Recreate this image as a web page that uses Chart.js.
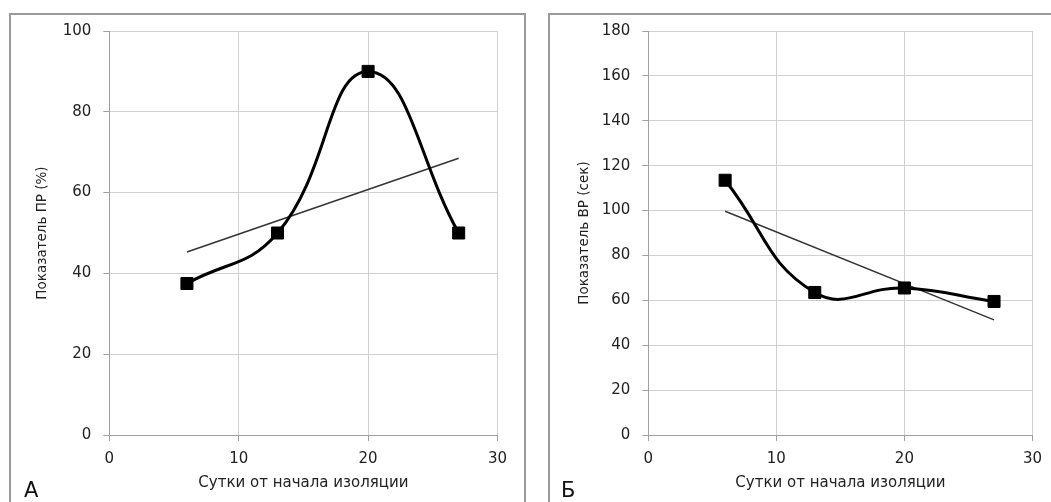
<!DOCTYPE html>
<html>
<head>
<meta charset="utf-8">
<script src="https://cdn.jsdelivr.net/npm/chart.js@4.4.1/dist/chart.umd.min.js"></script>
<style>
  html, body { margin: 0; padding: 0; background: #fff; }
  body { width: 1051px; height: 502px; position: relative; overflow: hidden; font-family: "DejaVu Sans", sans-serif; }
  .panel { position: absolute; top: 13px; height: 520px; border: 2px solid #9a9a9a; box-sizing: border-box; }
  .wrap { position: absolute; top: 0; height: 502px; }
  .letter { position: absolute; font-size: 21px; color: #111; line-height: 1; }
</style>
</head>
<body>
<div class="panel" style="left:9px; width:517px;"></div>
<div class="panel" style="left:548px; width:520px;"></div>
<div class="wrap" style="left:0; width:526px;"><canvas id="chartA"></canvas></div>
<div class="wrap" style="left:526px; width:525px;"><canvas id="chartB"></canvas></div>
<div class="letter" style="left:24px; top:480px;">А</div>
<div class="letter" style="left:561px; top:480px;">Б</div>
<script>
// Панель А — показатель ПР
const daysA = [6, 13, 20, 27];
const valuesA = [37.5, 50, 90, 50];
const trendDaysA = [6, 27];
const trendA = [45.3, 68.5];

// Панель Б — показатель ВР
const daysB = [6, 13, 20, 27];
const valuesB = [113.5, 63.5, 65.5, 59.5];
const trendDaysB = [6, 27];
const trendB = [99.7, 51.3];

const xTitle = 'Сутки от начала изоляции';
const FONT = '"DejaVu Sans", sans-serif';

function pts(xs, ys) { return xs.map((x, i) => ({ x, y: ys[i] })); }

function makeChart(id, cfg) {
  return new Chart(document.getElementById(id), {
    type: 'line',
    data: {
      datasets: [
        {
          data: pts(cfg.days, cfg.values),
          borderColor: '#000',
          borderWidth: 3,
          tension: 0.45,
          pointStyle: 'rect',
          pointRadius: 8.5,
          pointBackgroundColor: '#000',
          pointBorderColor: '#000',
          pointBorderWidth: 1,
          order: 1
        },
        {
          data: pts(cfg.trendDays, cfg.trend),
          borderColor: '#333',
          borderWidth: 1.4,
          pointRadius: 0,
          tension: 0,
          order: 2
        }
      ]
    },
    options: {
      responsive: true,
      maintainAspectRatio: false,
      animation: false,
      events: [],
      layout: { padding: { top: 31, right: cfg.padRight, left: 0, bottom: 0 } },
      plugins: { legend: { display: false }, tooltip: { enabled: false } },
      scales: {
        x: {
          type: 'linear',
          min: 0, max: 30,
          ticks: { stepSize: 10, color: '#222', font: { family: FONT, size: 15 }, padding: 9, maxRotation: 0 },
          grid: { color: '#d0d0d0', tickLength: 6, tickColor: '#a0a0a0' },
          border: { color: '#a0a0a0' },
          title: { display: true, text: xTitle, color: '#222', font: { family: FONT, size: 15 }, padding: { top: 0, bottom: 10 } },
          afterFit(s) { s.height = 67; }
        },
        y: {
          min: 0, max: cfg.yMax,
          ticks: { stepSize: 20, color: '#222', font: { family: FONT, size: 15 }, padding: 12 },
          grid: { color: '#d0d0d0', tickLength: 6, tickColor: '#a0a0a0' },
          border: { color: '#a0a0a0' },
          title: { display: true, text: cfg.yTitle, color: '#222', font: { family: FONT, size: 13.5 }, padding: { top: cfg.yTitlePad, bottom: 0 } },
          afterFit(s) { s.width = cfg.yWidth; }
        }
      }
    }
  });
}

makeChart('chartA', {
  days: daysA, values: valuesA, trendDays: trendDaysA, trend: trendA,
  yMax: 100, yTitle: 'Показатель ПР (%)', yWidth: 109.3, padRight: 28.5, yTitlePad: 34.4
});
makeChart('chartB', {
  days: daysB, values: valuesB, trendDays: trendDaysB, trend: trendB,
  yMax: 180, yTitle: 'Показатель ВР (сек)', yWidth: 122.3, padRight: 15, yTitlePad: 49.9
});
</script>
</body>
</html>
